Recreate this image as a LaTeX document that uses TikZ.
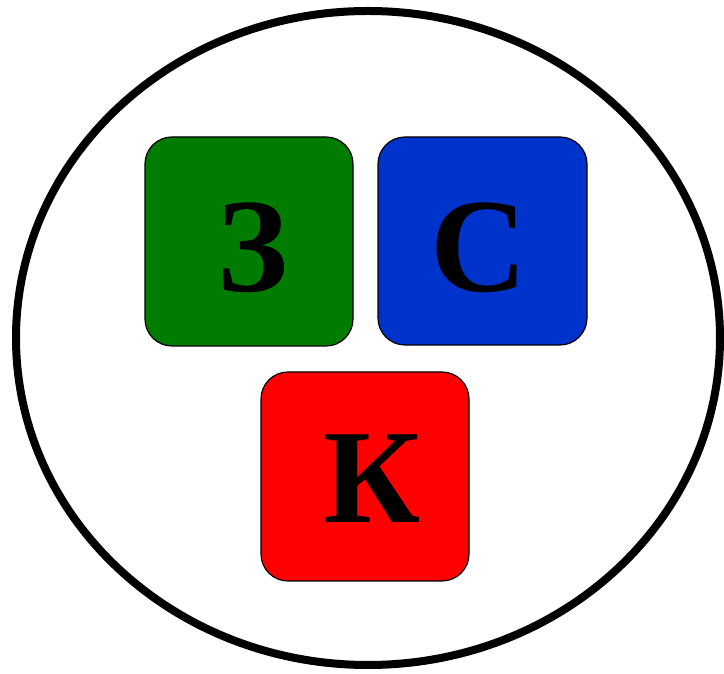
\documentclass[tikz,border=0pt]{standalone}
\usepackage{fontspec}
\setmainfont{Liberation Serif}
\begin{document}
\begin{tikzpicture}[x=1pt,y=1pt,
  tile/.style={draw=black,line width=1.2pt,rounded corners=27pt},
  letter/.style={anchor=base,inner sep=0pt,font=\fontsize{134}{134}\selectfont\bfseries}]
\useasboundingbox (0,0) rectangle (724,674);
\definecolor{tgreen}{RGB}{0,124,0}
\definecolor{tblue}{RGB}{0,51,204}
\definecolor{tred}{RGB}{255,0,0}
\draw[line width=8pt] (368,336) ellipse [x radius=352, y radius=327];
\filldraw[tile,fill=tgreen] (145,328) rectangle (353,537);
\filldraw[tile,fill=tblue] (378,329) rectangle (587,537);
\filldraw[tile,fill=tred] (261,93) rectangle (469,302);
\node[letter] (z) at (253,382) {З};
\node[letter] (s) at (479,382) {С};
\node[letter] (k) at (372,151) {К};
\end{tikzpicture}
\end{document}
